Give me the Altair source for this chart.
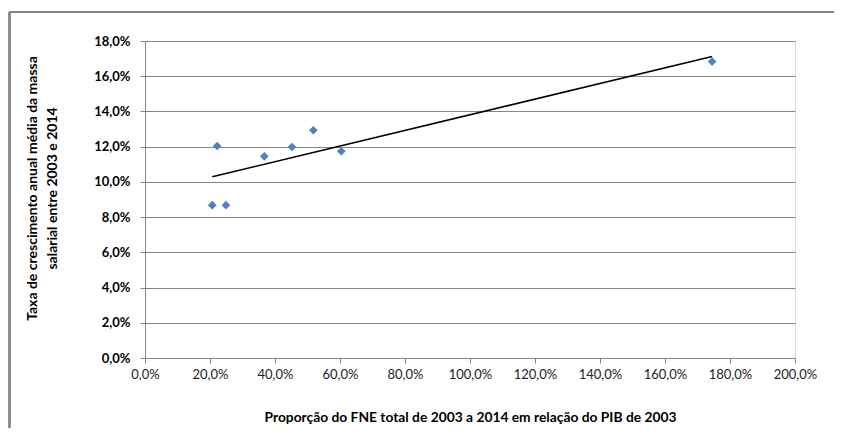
import altair as alt
import pandas as pd

# Proporção do FNE (% do PIB de 2003) e taxa de crescimento (%)
fne_share = [20.7, 24.9, 22.2, 36.7, 45.2, 51.8, 60.4, 174.5]
wage_growth = [8.68, 8.68, 12.04, 11.45, 11.98, 12.93, 11.74, 16.83]
x_ticks = [0, 20, 40, 60, 80, 100, 120, 140, 160, 180, 200]
y_ticks = [0, 2, 4, 6, 8, 10, 12, 14, 16, 18]

df = pd.DataFrame({"x": fne_share, "y": wage_growth})

W, H = 650, 317
FONT = "Lato"
GRAY = "#868686"
lbl = "replace(format(datum.value, '.1f'), '.', ',') + '%'"

x_enc = alt.X(
    "x:Q",
    scale=alt.Scale(domain=[0, 200], nice=False),
    axis=alt.Axis(
        values=x_ticks, labelExpr=lbl, grid=False,
        domainColor=GRAY, tickColor=GRAY, tickSize=5, labelPadding=5,
        labelOverlap=False, labelFlush=False,
        labelFont=FONT, labelFontSize=13, labelColor="#222222",
        title="Proporção do FNE total de 2003 a 2014 em relação do PIB de 2003",
        titleFont=FONT, titleFontSize=13.8, titleFontWeight="bold", titleColor="#000000",
        titleY=59, titleBaseline="middle",
    ),
)
y_enc = alt.Y(
    "y:Q",
    scale=alt.Scale(domain=[0, 18], nice=False),
    axis=alt.Axis(
        values=y_ticks, tickCount=10, labelExpr=lbl, grid=True, gridColor=GRAY,
        domainColor=GRAY, tickColor=GRAY, tickSize=5, labelPadding=10,
        labelOverlap=False, labelFlush=False,
        labelFont=FONT, labelFontSize=13, labelFontWeight="bold", labelColor="#000000",
        title=["Taxa de crescimento anual média da massa", "salarial entre 2003 e 2014"],
        titleFont=FONT, titleFontSize=14, titleFontWeight="bold", titleColor="#000000",
        titleX=-120, titleY=147, titleBaseline="top", titleAlign="center",
        titleLineHeight=20, titleAngle=270,
    ),
)

points = alt.Chart(df).mark_point(
    shape="diamond", filled=True, color="#4F81BD", size=75, opacity=1
).encode(x=x_enc, y=y_enc)

trend = alt.Chart(df).transform_regression("x", "y").mark_line(
    color="#000000", strokeWidth=1.6
).encode(x=x_enc, y=y_enc)

frame_left = alt.Chart(df).mark_rule(color=GRAY, strokeWidth=1.5).encode(
    x=alt.value(-135.5), y=alt.value(-29), y2=alt.value(H + 70)
)
frame_top = alt.Chart(df).mark_rule(color=GRAY, strokeWidth=1.5).encode(
    x=alt.value(-135.5), x2=alt.value(W + 39), y=alt.value(-29)
)

chart = alt.layer(frame_left, frame_top, trend, points).properties(
    width=W, height=H,
    autosize=alt.AutoSizeParams(type="none"),
    padding={"left": 137, "top": 33, "right": 39, "bottom": 70},
).configure_view(stroke=None).configure(background="white")

chart.save("out.html", embed_options={"renderer": "svg", "actions": False})
